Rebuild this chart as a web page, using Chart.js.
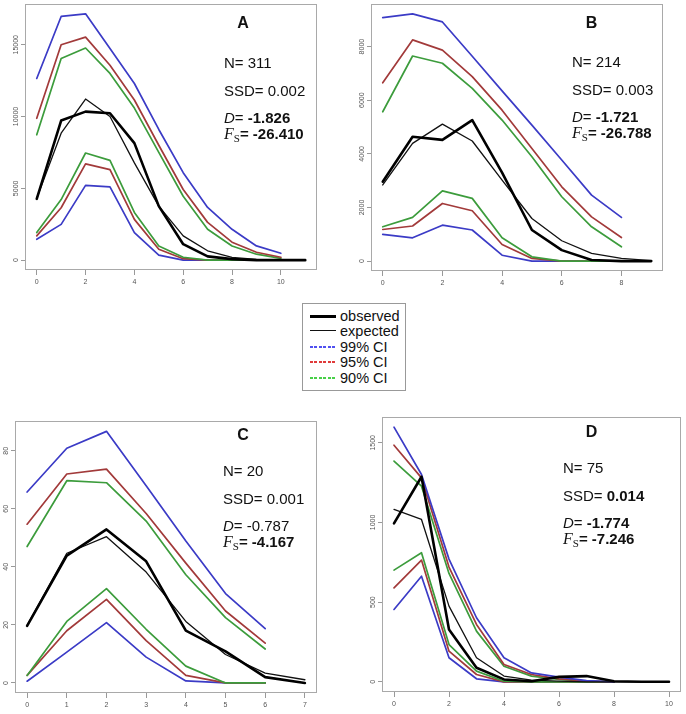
<!DOCTYPE html>
<html><head><meta charset="utf-8">
<script src="https://cdn.jsdelivr.net/npm/chart.js@4.4.1/dist/chart.umd.min.js"></script>
<style>
html,body{margin:0;padding:0;background:#fff;}
body{width:686px;height:714px;position:relative;overflow:hidden;font-family:"Liberation Sans",Arial,sans-serif;}
canvas{position:absolute;}
#legend{position:absolute;left:302px;top:303px;width:104px;height:88px;border:1px solid #999;box-sizing:border-box;background:#fff;}
.ln{position:absolute;left:7px;width:26px;}
.lt{position:absolute;left:37px;font-size:14.5px;line-height:16px;color:#111;white-space:nowrap;}
</style></head><body>
<canvas id="cA"></canvas><canvas id="cB"></canvas><canvas id="cC"></canvas><canvas id="cD"></canvas>
<div id="legend"></div>
<script>
// ---------- DATA ----------
const legendLabels = ['observed','expected','99% CI','95% CI','90% CI'];

// Panel A
const xA   = [0,1,2,3,4,5,6,7,8,9,10,11];
const xCIA = [0,1,2,3,4,5,6,7,8,9,10];
const obsA = [4270,9720,10340,10230,8150,3760,1110,260,70,0,0,0];
const expA = [4300,8840,11220,10000,6770,3760,1690,650,200,60,10,0];
const u99A = [12650,16970,17150,14730,12300,9100,6090,3670,2150,990,480];
const u95A = [9880,15000,15530,13570,11150,8000,4920,2630,1250,550,200];
const u90A = [8730,14040,14770,13000,10590,7500,4450,2150,990,415,120];
const l90A = [1920,4220,7460,6950,3320,990,200,0,0,0,0];
const l95A = [1690,3650,6700,6300,2840,760,100,0,0,0,0];
const l99A = [1450,2490,5210,5100,1920,350,0,0,0,0,0];
const xTicksA = [0,2,4,6,8,10];
const yTicksA = [0,5000,10000,15000];

// Panel B
const xB   = [0,1,2,3,4,5,6,7,8,9];
const xCIB = [0,1,2,3,4,5,6,7,8];
const obsB = [2960,4640,4520,5260,3300,1160,410,40,0,0];
const expB = [2840,4390,5110,4480,3020,1590,760,290,100,20];
const u99B = [9080,9220,8920,7640,6350,5070,3770,2460,1630];
const u95B = [6650,8250,7870,6880,5630,4200,2770,1650,880];
const u90B = [5570,7650,7380,6440,5260,3890,2400,1280,535];
const l90B = [1280,1630,2620,2340,870,160,0,0,0];
const l95B = [1180,1310,2150,1880,620,100,0,0,0];
const l99B = [1000,870,1340,1160,220,0,0,0,0];
const xTicksB = [0,2,4,6,8];
const yTicksB = [0,2000,4000,6000,8000];

// Panel C
const xC   = [0,1,2,3,4,5,6,7];
const xCIC = [0,1,2,3,4,5,6];
const obsC = [19.7,43.9,52.9,41.9,18,10.9,2,0];
const expC = [19.9,44.7,50.4,38.2,21.2,9.8,3.4,1.1];
const u99C = [65.8,80.9,86.7,68,48.9,30.8,18.7];
const u95C = [54.7,72,73.7,58.4,41.3,24.8,13.7];
const u90C = [47,69.7,69,55.8,37.3,22.5,11.7];
const l90C = [2.6,21.2,32.5,18.5,5.8,0,0];
const l95C = [2.6,18,28.8,14.6,2.6,0,0];
const l99C = [0.6,10.6,20.8,8.9,0.7,0,0];
const xTicksC = [0,1,2,3,4,5,6,7];
const yTicksC = [0,20,40,60,80];

// Panel D
const xD   = [0,1,2,3,4,5,6,7,8,9,10];
const xCID = [0,1,2,3,4,5,6,7,8];
const obsD = [994,1287,328,88,15,4,31,36,4,0,0];
const expD = [1082,1019,475,151,36,10,4,0,0,0,0];
const u99D = [1598,1301,770,402,151,56,29,8,0];
const u95D = [1485,1280,720,360,109,46,19,4,0];
const u90D = [1385,1228,680,318,98,36,15,4,0];
const l90D = [701,810,234,67,4,0,0,0,0];
const l95D = [590,764,192,46,0,0,0,0,0];
const l99D = [454,663,151,19,0,0,0,0,0];
const xTicksD = [0,2,4,6,8,10];
const yTicksD = [0,500,1000,1500];

// ---------- STYLE ----------
const SANS = '"Liberation Sans", Arial, sans-serif';
const SERIF = '"Liberation Serif", "Times New Roman", serif';
const BLUE = '#3b3bc6', RED = '#a23a3a', GREEN = '#3c9c3c';
const TICKFONT = 7;
const YAXW = 30, XAXH = 24, PADT = 2, PADR = 4;

const boxPlugin = {
  id: 'boxAnnot',
  afterDraw(chart, args, opts) {
    const ctx = chart.ctx, ca = chart.chartArea;
    ctx.save();
    ctx.strokeStyle = '#a9a9a9'; ctx.lineWidth = 1;
    ctx.strokeRect(Math.round(ca.left) - 0.5, Math.round(ca.top) + 0.5,
                   Math.round(ca.right - ca.left) + 1, Math.round(ca.bottom - ca.top) - 1);
    ctx.fillStyle = '#111'; ctx.textBaseline = 'alphabetic'; ctx.textAlign = 'left';
    for (const line of (opts.lines || [])) {
      let x = line.x - opts.box.l + ca.left;
      const y = line.y - opts.box.t + ca.top;
      if (line.center) {
        let w = 0;
        for (const p of line.parts) { ctx.font = p.f; w += ctx.measureText(p.t).width; }
        x -= w / 2;
      }
      for (const p of line.parts) {
        ctx.font = p.f;
        ctx.fillText(p.t, x, y + (p.dy || 0));
        x += ctx.measureText(p.t).width;
      }
    }
    ctx.restore();
  }
};

function widest(labels) {
  const c = document.createElement('canvas').getContext('2d');
  c.font = `normal ${TICKFONT}px ${SANS}`;
  return Math.max(...labels.map(l => c.measureText(String(l)).width));
}

function pts(xs, ys) { return ys.map((v, i) => ({x: xs[i], y: v})); }

function panel(id, box, xs, xsCI, s, xTicks, yTicks, lines) {
  const cv = document.getElementById(id);
  const W = box.r - box.l + YAXW + PADR, H = box.b - box.t + PADT + XAXH;
  cv.width = W; cv.height = H;
  cv.style.left = (box.l - YAXW) + 'px'; cv.style.top = (box.t - PADT) + 'px';
  cv.style.width = W + 'px'; cv.style.height = H + 'px';
  const all = [].concat(s.obs, s.exp, s.u99, s.u95, s.u90, s.l90, s.l95, s.l99);
  const ymx = Math.max(...all), ymn = Math.min(...all);
  const xmx = xs[xs.length - 1], xmn = xs[0];
  const ci = (data, col) => ({data: pts(xsCI, data), borderColor: col, borderWidth: 1.7});
  const ypad = 5 - widest(yTicks) / 2;
  new Chart(cv, {
    type: 'line',
    data: {
      datasets: [
        {data: pts(xs, s.obs), borderColor: '#000', borderWidth: 2.6},
        {data: pts(xs, s.exp), borderColor: '#111', borderWidth: 1.3},
        ci(s.u99, BLUE), ci(s.u95, RED), ci(s.u90, GREEN),
        ci(s.l90, GREEN), ci(s.l95, RED), ci(s.l99, BLUE)
      ]
    },
    options: {
      responsive: false, animation: false, events: [],
      devicePixelRatio: 1,
      layout: {padding: {top: PADT, right: PADR, left: 0, bottom: 0}},
      elements: {point: {radius: 0}, line: {tension: 0, borderJoinStyle: 'round', borderCapStyle: 'round', fill: false}},
      plugins: {legend: {display: false}, tooltip: {enabled: false},
        boxAnnot: {box, lines}},
      scales: {
        x: {
          type: 'linear',
          min: xmn - 0.04 * (xmx - xmn), max: xmx + 0.04 * (xmx - xmn),
          afterBuildTicks: sc => { sc.ticks = xTicks.map(v => ({value: v})); },
          afterFit: sc => { sc.height = XAXH; },
          border: {display: false},
          grid: {drawOnChartArea: false, drawTicks: true, tickLength: 5, color: '#999', lineWidth: 1},
          ticks: {font: {size: TICKFONT, family: SANS}, color: '#555', padding: 3, autoSkip: false,
                  maxRotation: 0, minRotation: 0, callback: v => String(v)}
        },
        y: {
          type: 'linear',
          min: ymn - 0.04 * (ymx - ymn), max: ymx + 0.04 * (ymx - ymn),
          afterBuildTicks: sc => { sc.ticks = yTicks.map(v => ({value: v})); },
          afterFit: sc => { sc.width = YAXW; },
          border: {display: false},
          grid: {drawOnChartArea: false, drawTicks: true, tickLength: 5, color: '#999', lineWidth: 1},
          ticks: {font: {size: TICKFONT, family: SANS}, color: '#555', padding: ypad, autoSkip: false,
                  minRotation: 90, maxRotation: 90, crossAlign: 'center', callback: v => String(v)}
        }
      }
    },
    plugins: [boxPlugin]
  });
}

const F15 = `15px ${SANS}`, B15 = `bold 15px ${SANS}`, I15 = `italic 15px ${SANS}`;
const L16 = `bold 16px ${SANS}`, FI = `italic 16px ${SERIF}`, FS = `11px ${SERIF}`;
function stats(x, y0, letterX, letterY, letter, n, ssd, ssdBold, d, dBold, fs) {
  return [
    {x: letterX, y: letterY, center: true, parts: [{t: letter, f: L16}]},
    {x, y: y0, parts: [{t: 'N= ' + n, f: F15}]},
    {x, y: y0 + 27.5, parts: [{t: 'SSD= ', f: F15}, {t: ssd, f: ssdBold ? B15 : F15}]},
    {x, y: y0 + 55, parts: [{t: 'D', f: I15}, {t: '= ', f: F15}, {t: d, f: dBold ? B15 : F15}]},
    {x, y: y0 + 70.5, parts: [{t: 'F', f: FI}, {t: 'S', f: FS, dy: 3}, {t: '= ' + fs, f: B15}]}
  ];
}

panel('cA', {l: 26, t: 4, r: 316, b: 270}, xA, xCIA,
  {obs: obsA, exp: expA, u99: u99A, u95: u95A, u90: u90A, l90: l90A, l95: l95A, l99: l99A},
  xTicksA, yTicksA, stats(224, 68, 243, 28, 'A', '311', '0.002', false, '-1.826', true, '-26.410'));
panel('cB', {l: 372, t: 4, r: 662, b: 271}, xB, xCIB,
  {obs: obsB, exp: expB, u99: u99B, u95: u95B, u90: u90B, l90: l90B, l95: l95B, l99: l99B},
  xTicksB, yTicksB, stats(572, 67, 591.5, 28, 'B', '214', '0.003', false, '-1.721', true, '-26.788'));
panel('cC', {l: 16, t: 418, r: 316, b: 693}, xC, xCIC,
  {obs: obsC, exp: expC, u99: u99C, u95: u95C, u90: u90C, l90: l90C, l95: l95C, l99: l99C},
  xTicksC, yTicksC, stats(223, 473, 243, 437, 'C', '20', '0.001', false, '-0.787', false, '-4.167'));
panel('cD', {l: 383, t: 417, r: 680, b: 692}, xD, xCID,
  {obs: obsD, exp: expD, u99: u99D, u95: u95D, u90: u90D, l90: l90D, l95: l95D, l99: l99D},
  xTicksD, yTicksD, stats(563, 473, 591.5, 437, 'D', '75', '0.014', true, '-1.774', true, '-7.246'));

// ---------- LEGEND ----------
const legStyles = [
  'height:3px;background:#000;',
  'height:1px;background:#111;',
  'height:2px;background:repeating-linear-gradient(to right,#5050f0 0 3px,transparent 3px 4.4px);',
  'height:2px;background:repeating-linear-gradient(to right,#e03a3a 0 3px,transparent 3px 4.4px);',
  'height:2px;background:repeating-linear-gradient(to right,#48d048 0 3px,transparent 3px 4.4px);'
];
const leg = document.getElementById('legend');
legendLabels.forEach((lab, i) => {
  const cy = 11.5 + i * 15.5;
  const ln = document.createElement('div');
  ln.className = 'ln'; ln.style.cssText = legStyles[i] + `top:${Math.round(cy - 1)}px;`;
  leg.appendChild(ln);
  const t = document.createElement('div');
  t.className = 'lt'; t.style.top = (cy - 8) + 'px'; t.textContent = lab;
  leg.appendChild(t);
});
</script>
</body></html>
